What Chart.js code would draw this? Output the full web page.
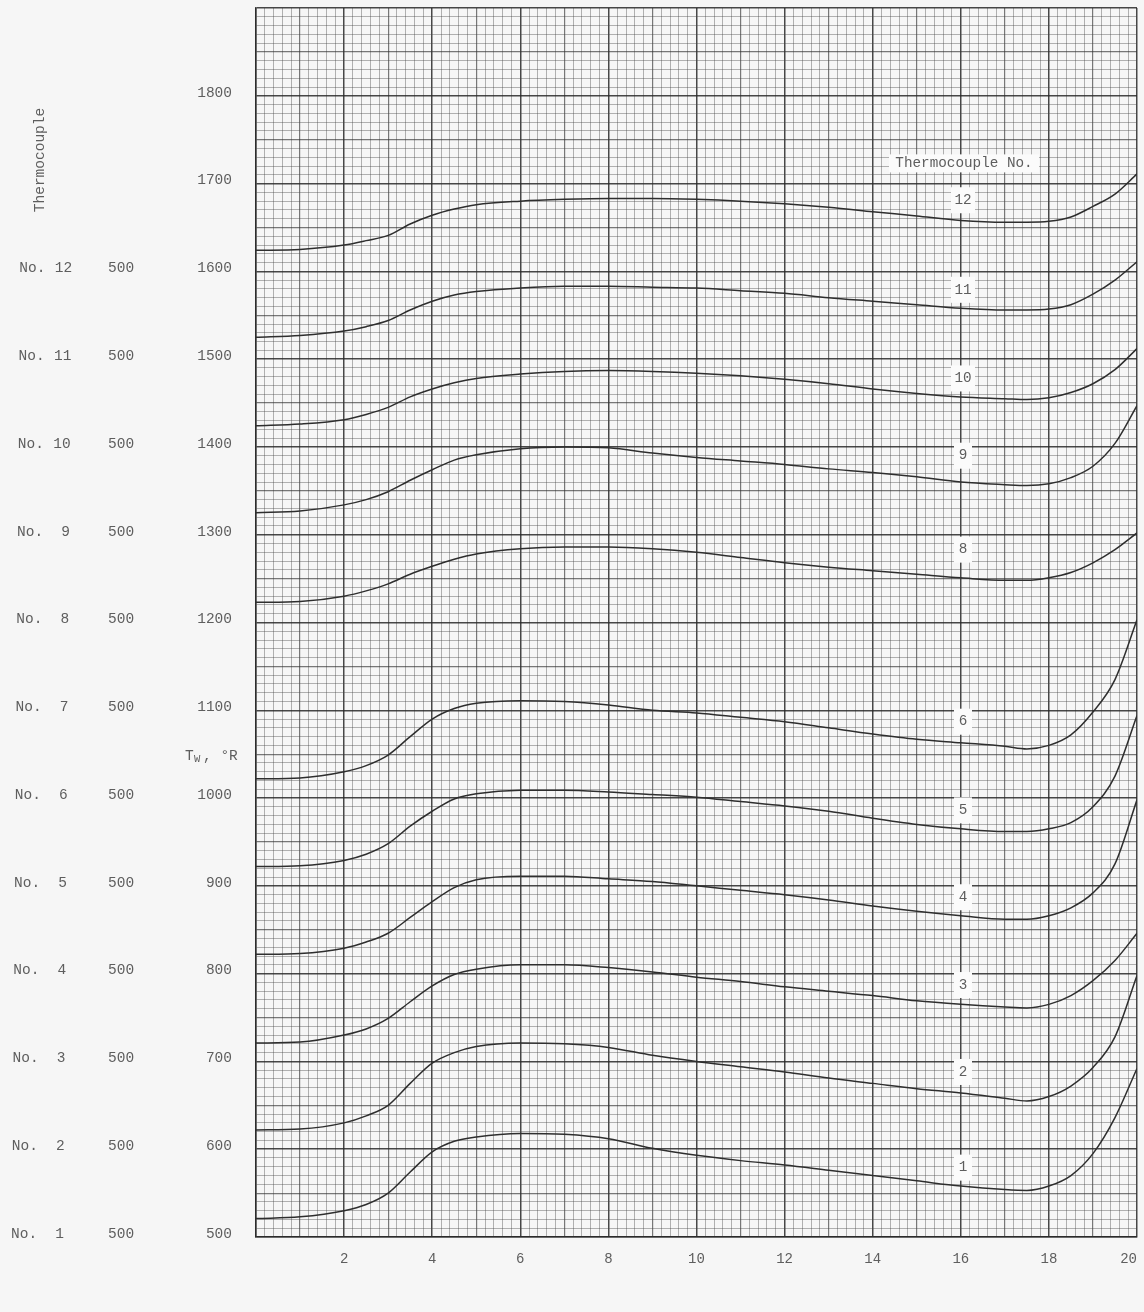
<!DOCTYPE html>
<html>
<head>
<meta charset="utf-8">
<title>Wall temperature histories</title>
<script src="https://cdn.jsdelivr.net/npm/chart.js@4.4.1/dist/chart.umd.min.js"></script>
<style>
  html, body { margin: 0; padding: 0; background: #f6f6f6; }
  #wrap { position: relative; width: 1144px; height: 1312px; }
</style>
</head>
<body>
<div id="wrap"><canvas id="tempChart"></canvas></div>
<script>
// Time, sec
const time = [0, 1, 2, 2.5, 3, 3.5, 4, 4.5, 5, 6, 7, 8, 9, 10, 11, 12, 13, 14, 15, 16, 17, 17.5, 18, 18.5, 19, 19.5, 20];

// Wall temperature Tw (deg R) as plotted; each record sits 100 deg above the one below
const tc1  = [521, 523, 530, 537, 550, 574, 597, 609, 614, 618, 617, 612, 601, 593, 587, 582, 576, 570, 564, 558, 554, 553, 558, 570, 595, 636, 692];
const tc2  = [622, 623, 630, 638, 650, 675, 698, 710, 717, 721, 720, 716, 707, 700, 694, 688, 681, 675, 669, 664, 658, 655, 660, 672, 693, 728, 798];
const tc3  = [721, 722, 730, 737, 749, 768, 786, 799, 805, 810, 810, 807, 802, 796, 791, 785, 780, 775, 769, 765, 762, 761, 765, 775, 792, 815, 846];
const tc4  = [822, 823, 829, 836, 846, 864, 882, 898, 907, 911, 911, 908, 905, 900, 895, 890, 884, 877, 871, 866, 862, 862, 866, 875, 892, 925, 998];
const tc5  = [922, 923, 929, 936, 948, 968, 985, 999, 1005, 1009, 1009, 1007, 1004, 1001, 996, 991, 985, 977, 970, 965, 962, 962, 965, 972, 990, 1025, 1094];
const tc6  = [1022, 1023, 1030, 1037, 1049, 1070, 1090, 1102, 1108, 1111, 1110, 1106, 1100, 1097, 1092, 1087, 1080, 1073, 1067, 1063, 1059, 1056, 1060, 1072, 1098, 1135, 1203];
const tc8  = [1223, 1224, 1230, 1236, 1244, 1255, 1264, 1272, 1278, 1284, 1286, 1286, 1284, 1280, 1274, 1268, 1263, 1259, 1255, 1251, 1248, 1248, 1251, 1257, 1268, 1283, 1302];
const tc9  = [1325, 1327, 1334, 1340, 1349, 1362, 1374, 1385, 1391, 1398, 1400, 1399, 1393, 1388, 1384, 1380, 1375, 1371, 1366, 1360, 1357, 1356, 1358, 1365, 1378, 1404, 1447];
const tc10 = [1424, 1426, 1431, 1437, 1445, 1457, 1466, 1473, 1478, 1483, 1486, 1487, 1486, 1484, 1481, 1477, 1472, 1466, 1461, 1457, 1455, 1454, 1456, 1462, 1472, 1488, 1512];
const tc11 = [1525, 1527, 1532, 1537, 1544, 1556, 1566, 1573, 1577, 1581, 1583, 1583, 1582, 1581, 1578, 1575, 1570, 1566, 1562, 1558, 1556, 1556, 1557, 1562, 1574, 1590, 1611];
const tc12 = [1624, 1625, 1630, 1635, 1641, 1654, 1664, 1671, 1676, 1680, 1682, 1683, 1683, 1682, 1680, 1677, 1673, 1668, 1663, 1658, 1656, 1656, 1657, 1662, 1674, 1688, 1711];

const thermocouples = [1, 2, 3, 4, 5, 6, 8, 9, 10, 11, 12];
const series = [tc1, tc2, tc3, tc4, tc5, tc6, tc8, tc9, tc10, tc11, tc12];

// number tags written on the curves, near t = 16 sec
const tagTime = 16.05;
const tagValues = [579, 688, 787, 887, 986, 1087, 1283, 1390, 1478, 1579, 1681];

// axis tick labels
const xTickLabels = [2, 4, 6, 8, 10, 12, 14, 16, 18, 20];
const yTickLabels = [500, 600, 700, 800, 900, 1000, 1100, 1200, 1300, 1400, 1500, 1600, 1700, 1800];

// left-hand table: thermocouple number and its zero
const rowNumbers = [1, 2, 3, 4, 5, 6, 7, 8, 9, 10, 11, 12];
const rowZero = 500;

const mono = '"Liberation Mono", "DejaVu Sans Mono", monospace';
const textColor = '#5e5e5e';
const gridMajor = 'rgba(40, 40, 40, 0.85)';
const gridMid = 'rgba(50, 50, 50, 0.65)';
const gridMinor = 'rgba(70, 70, 70, 0.40)';
const labelShift = -3;

function gridColor(ctx) {
    if (ctx.index % 10 === 0) return gridMajor;
    if (ctx.index % 5 === 0) return gridMid;
    return gridMinor;
}
function gridWidth(ctx) {
    if (ctx.index % 10 === 0) return 1.5;
    if (ctx.index % 5 === 0) return 1.2;
    return 1;
}

const paperNotes = {
    id: 'paperNotes',
    beforeDraw(chart) {
        const c = chart.ctx;
        c.save();
        c.fillStyle = '#f6f6f6';
        c.fillRect(0, 0, chart.width, chart.height);
        c.restore();
    },
    afterDatasetsDraw(chart) {
        const c = chart.ctx;
        const { x, y } = chart.scales;
        c.save();
        c.fillStyle = textColor;
        c.font = `14.5px ${mono}`;
        c.textBaseline = 'middle';

        // No. / 500 columns
        rowNumbers.forEach(n => {
            const py = y.getPixelForValue(rowZero + (n - 1) * 100) + labelShift;
            const x0 = 11 + 0.75 * (n - 1);
            c.textAlign = 'left';
            c.fillText('No.', x0, py);
            c.textAlign = 'right';
            c.fillText(String(n), x0 + 53, py);
            c.textAlign = 'left';
            c.fillText(String(rowZero), 108, py);
        });

        // rotated column heading
        c.save();
        c.translate(40, 160);
        c.rotate(-Math.PI / 2);
        c.textAlign = 'center';
        c.fillText('Thermocouple', 0, 0);
        c.restore();

        // Tw, °R
        const ty = y.getPixelForValue(1048);
        c.textAlign = 'left';
        c.fillText('T', 185, ty);
        c.font = `10.5px ${mono}`;
        c.fillText('W', 194, ty + 3);
        c.font = `14.5px ${mono}`;
        c.fillText(', \u00B0R', 203, ty);

        // Time, sec
        c.font = `14px ${mono}`;
        c.fillText('Time, sec', x.getPixelForValue(9.77), x.bottom + 64);

        // Thermocouple No. heading box
        c.font = `14.3px ${mono}`;
        const hx = x.getPixelForValue(16.05);
        const hy = y.getPixelForValue(1723);
        c.fillStyle = '#fbfbfb';
        c.fillRect(hx - 74, hy - 9, 150, 18);
        c.fillStyle = textColor;
        c.textAlign = 'center';
        c.fillText('Thermocouple No.', hx + 1, hy);

        // curve number tags
        thermocouples.forEach((n, i) => {
            const px = x.getPixelForValue(tagTime);
            const py = y.getPixelForValue(tagValues[i]);
            const w = n > 9 ? 24 : 18;
            c.fillStyle = '#fbfbfb';
            c.fillRect(px - w / 2, py - 13, w, 26);
            c.fillStyle = textColor;
            c.fillText(String(n), px, py);
        });
        c.restore();
    }
};

const ctx = document.getElementById('tempChart').getContext('2d');

const chart = new Chart(ctx, {
    type: 'line',
    data: {
        datasets: thermocouples.map((n, i) => ({
            label: 'Thermocouple ' + n,
            data: time.map((t, j) => ({ x: t, y: series[i][j] })),
            borderColor: '#2e2e2e',
            borderWidth: 1.5,
            pointRadius: 0,
            fill: false,
            cubicInterpolationMode: 'monotone'
        }))
    },
    options: {
        responsive: true,
        maintainAspectRatio: false,
        animation: false,
        layout: { padding: { left: 0, right: 7, top: 8, bottom: 0 } },
        plugins: {
            legend: { display: false },
            tooltip: { enabled: false }
        },
        scales: {
            x: {
                type: 'linear',
                min: 0,
                max: 20,
                // fixed band under the grid; no extra side padding for the end labels
                afterFit: scale => {
                    scale.height = 75;
                    scale.paddingLeft = 0;
                    scale.paddingRight = 0;
                },
                border: { display: true, color: gridMajor, width: 1.5 },
                grid: { color: gridColor, lineWidth: gridWidth, drawTicks: false },
                ticks: {
                    stepSize: 0.2,
                    autoSkip: false,
                    maxRotation: 0,
                    align: 'inner',
                    padding: 14,
                    color: textColor,
                    font: { family: mono, size: 14 },
                    callback: value => {
                        const v = Math.round(value * 10) / 10;
                        return xTickLabels.includes(v) ? String(v) : '';
                    }
                }
            },
            y: {
                type: 'linear',
                min: 500,
                max: 1900,
                afterFit: scale => {
                    scale.width = 256;
                    scale.paddingTop = 0;
                    scale.paddingBottom = 0;
                },
                border: { display: true, color: gridMajor, width: 1.5 },
                grid: { color: gridColor, lineWidth: gridWidth, drawTicks: false },
                ticks: {
                    stepSize: 10,
                    autoSkip: false,
                    padding: 24,
                    labelOffset: labelShift,
                    color: textColor,
                    font: { family: mono, size: 14.5 },
                    callback: value => {
                        const v = Math.round(value);
                        return yTickLabels.includes(v) ? String(v) : '';
                    }
                }
            }
        }
    },
    plugins: [paperNotes]
});
</script>
</body>
</html>
